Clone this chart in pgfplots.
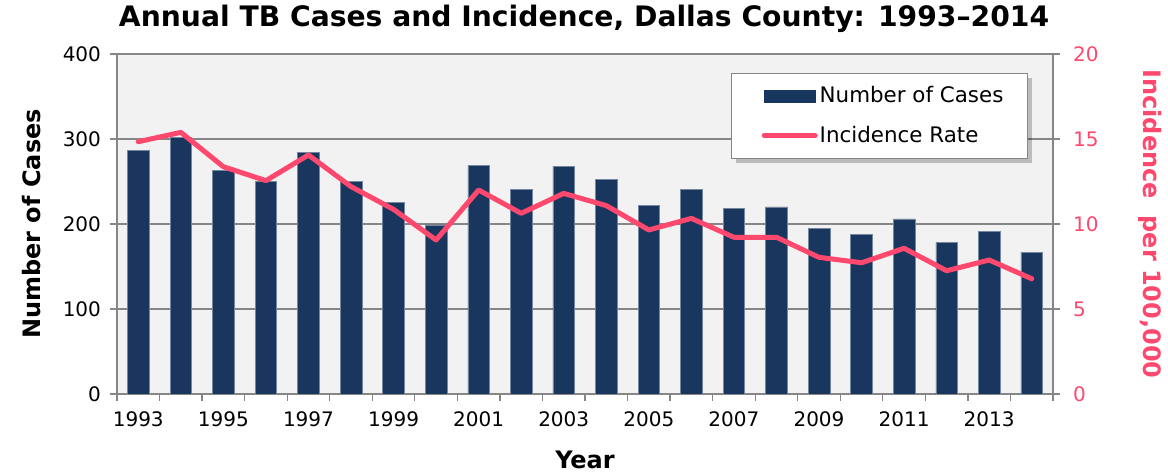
\documentclass[border=0pt]{standalone}
\usepackage{fontspec}
\setmainfont{DejaVu Sans}
\usepackage{pgfplots}
\pgfplotsset{compat=1.18}
\definecolor{navy}{RGB}{25,55,94}
\definecolor{pinkc}{RGB}{255,72,110}
\definecolor{bgc}{RGB}{242,242,242}
\definecolor{gridc}{RGB}{134,134,134}
\begin{document}
\begin{tikzpicture}
\useasboundingbox (0,0) rectangle (584pt,237.5pt);
\pgfplotsset{
  base/.style={
    width=468pt, height=170pt, scale only axis,
    at={(58.5pt,40.5pt)}, anchor=south west,
    xmin=-0.5, xmax=21.5,
    tick align=outside,
    major tick length=3.5pt,
    minor tick length=3.5pt,
    /pgf/number format/assume math mode=true,
    tick label style={font=\fontsize{10}{12}\selectfont},
  }
}
\begin{axis}[base,
  axis background/.style={fill=bgc},
  axis line style={gridc, line width=0.6pt},
  ymin=0, ymax=400, ytick={0,100,...,400},
  ymajorgrids, grid style={gridc, line width=0.6pt},
  xtick={0,2,...,20},
  xticklabels={1993,1995,1997,1999,2001,2003,2005,2007,2009,2011,2013},
  minor xtick={-0.5,0.5,...,21.5},
  major x tick style={draw=none},
  minor x tick style={gridc, line width=0.6pt},
  y tick style={gridc, line width=0.6pt},
  ytick pos=left, xtick pos=bottom,
  xticklabel style={yshift=-2pt},
  yticklabel style={xshift=-1pt},
  xlabel={\fontsize{12}{14}\selectfont\bfseries Year},
  xlabel style={yshift=-5pt},
  ylabel={\fontsize{12}{14}\selectfont\bfseries Number of Cases},
  ylabel style={yshift=4pt},
]
\addplot[ybar, bar width=10.8pt, fill=navy, draw=navy!60!white, line width=0.3pt] coordinates {
(0,287) (1,302) (2,263) (3,250) (4,284) (5,250) (6,225) (7,199) (8,269) (9,241) (10,268)
(11,252) (12,222) (13,241) (14,218) (15,220) (16,195) (17,188) (18,206) (19,178) (20,191) (21,167)};
\end{axis}
\begin{axis}[base,
  axis x line=none,
  axis y line*=right,
  axis line style={gridc, line width=0.6pt},
  y tick style={gridc, line width=0.6pt},
  ymin=0, ymax=20, ytick={0,5,...,20},
  yticklabel style={pinkc, xshift=3pt},
  ylabel={\fontsize{12}{14}\selectfont\bfseries Incidence\ \ per 100,000},
  ylabel style={pinkc, rotate=180, yshift=13pt},
  legend style={at={(0.656,0.944)}, anchor=north west,
    draw=gridc, fill=white, line width=0.6pt,
    inner xsep=11pt, inner ysep=4.5pt, row sep=6pt,
    font=\fontsize{10.7}{12}\selectfont,
    nodes={inner xsep=1pt},
    legend cell align=left},
]
\fill[black, opacity=0.22] ([xshift=2.5pt,yshift=-2.5pt]axis description cs:0.656,0.944) rectangle ([xshift=2.5pt,yshift=-2.5pt]axis description cs:0.972,0.694);
\addlegendimage{legend image code/.code={\path (0pt,0pt); \fill[navy] (5pt,-3pt) rectangle (30.5pt,3pt);}}
\addlegendentry{Number of Cases}
\addlegendimage{legend image code/.code={\path (0pt,0pt); \draw[pinkc, line width=2.5pt, line cap=round] (5pt,0pt) -- (30.5pt,0pt);}}
\addlegendentry{Incidence Rate}
\addplot[pinkc, line width=2.5pt, line cap=round, line join=round, mark=none, forget plot] coordinates {
(0,14.84) (1,15.39) (2,13.37) (3,12.55) (4,14.06) (5,12.2) (6,10.86) (7,9.06) (8,12.0) (9,10.63) (10,11.8)
(11,11.08) (12,9.65) (13,10.33) (14,9.22) (15,9.22) (16,8.04) (17,7.72) (18,8.57) (19,7.25) (20,7.88) (21,6.78)};
\end{axis}
\node[font=\fontsize{14.1}{16}\selectfont\bfseries] at (292pt,228pt) {Annual TB Cases and Incidence, Dallas County: 1993–2014};
\end{tikzpicture}
\end{document}
